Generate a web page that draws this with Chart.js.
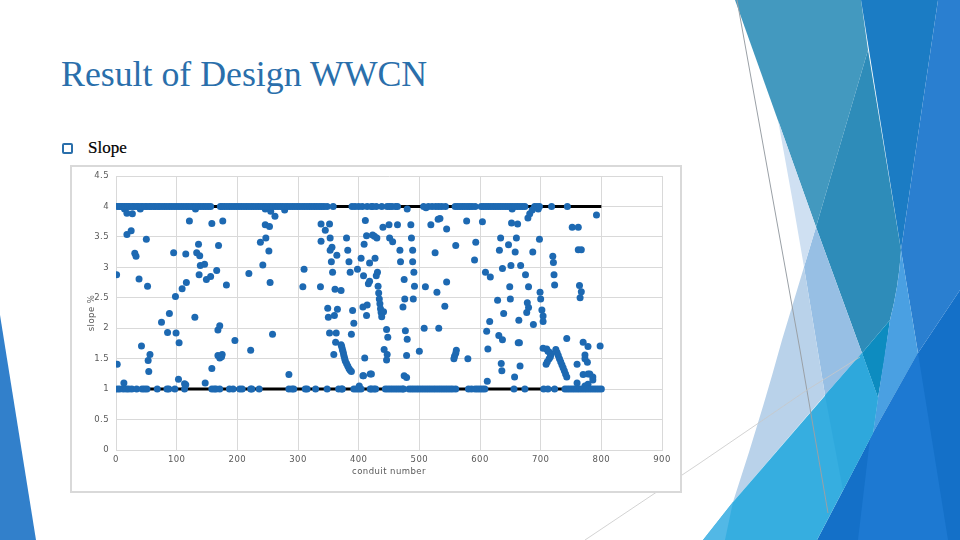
<!DOCTYPE html>
<html>
<head>
<meta charset="utf-8">
<title>Result of Design WWCN</title>
<script src="https://cdn.jsdelivr.net/npm/chart.js@4"></script>
<style>
  html, body { margin: 0; padding: 0; background: #fff; }
  body { position: relative; width: 960px; height: 540px; overflow: hidden; }
  #deco { position: absolute; left: 0; top: 0; }
  h1 { position: absolute; left: 61px; top: 53px; margin: 0; font: normal 35.8px "Liberation Serif", serif; color: #2a6fab; white-space: nowrap; }
  #bullet { position: absolute; left: 62px; top: 143px; width: 7px; height: 7px; border: 2px solid #2a6fab; border-radius: 2px; }
  #sub { position: absolute; left: 88px; top: 138px; font: 17px "Liberation Serif", serif; color: #000; -webkit-text-stroke: 0.2px #000; }
  #box { position: absolute; left: 70px; top: 165px; width: 608px; height: 324px; border: 2px solid #d9d9d9; background: #fff; }
</style>
</head>
<body>
<svg id="deco" width="960" height="540" viewBox="0 0 960 540">
  <!-- left corner -->
  <path d="M0 315 L36 540 L0 540 Z" fill="#3280cb"/>
  <!-- right side panels -->
  <path d="M735 0 L861 0 L868 50 L816 227 Z" fill="#4399bf"/>
  <path d="M861 0 L938 0 L901 250 Z" fill="#1b7cc4"/>
  <path d="M868 50 L816 227 L862 353 L890 320 Q899 285 901 250 Z" fill="#2e8cb9"/>
  <path d="M938 0 L960 0 L960 290 L918 353 L901 250 Z" fill="#2a7fd0"/>
  <path d="M862 353 L890 320 Q885 360 878 398 Z" fill="#0d8cc0"/>
  <path d="M901 250 L918 353 L873 433 L878 398 Q884 360 890 320 Q899 285 901 250 Z" fill="#4aa0e2"/>
  <path d="M960 290 L960 540 L817 540 L873 433 L918 353 Z" fill="#1470c8"/>
  <path d="M870 439 L918 353 L948 540 L858 540 Z" fill="#1d79d2"/>
  <path d="M816 227 L862 353 L825 395 L804 267 Z" fill="#97bfe4"/>
  <path d="M778 120 L816 227 L804 267 L793 203 Z" fill="#cfe0f2"/>
  <path d="M804 267 L825 395 L733 502 Q760 420 782 340 Z" fill="#b9d2ea"/>
  <path d="M862 353 L878 398 L873 433 L817 540 L703 540 L733 502 Z" fill="#36aee0"/>
  <path d="M825 395 L862 353 L878 398 L873 433 L843 490 Z" fill="#2ea8dc"/>
  <path d="M703 540 L733 502 L725 540 Z" fill="#52b8e6"/>
  <!-- thin lines -->
  <path d="M737 0 L800 350 L828 513" fill="none" stroke="#9aa0a6" stroke-width="1"/>
  <path d="M585 540 L700 463 L807 390 L860 357" fill="none" stroke="#c8c8c8" stroke-width="0.8"/>
</svg>
<h1>Result of Design WWCN</h1>
<div id="bullet"></div>
<div id="sub">Slope</div>
<div id="box"><canvas id="slopeChart" width="608" height="324"></canvas></div>
<script>
// design limits, drawn as black lines
const limitX = [0, 800];
const maxSlope = [4, 4];
const minSlope = [1, 1];

// conduits sitting on the max slope
const atMaxX = [2, 5, 8, 11, 14, 17, 20, 23, 27, 30, 34, 37, 41, 44, 48, 51, 55, 58, 62, 65, 69, 72, 76, 80, 84, 88, 92, 96, 100, 104, 108, 112, 116, 120, 124, 128, 132, 136, 140, 144, 148, 152, 156,
  172, 175, 179, 183, 187, 191, 195, 199, 203, 207, 211, 215, 219, 223, 227, 231, 235, 239, 243, 247, 251, 255, 259, 263, 267, 271, 275, 279, 283, 287, 291, 295, 299, 303, 307, 311, 315, 319, 323, 327, 331, 335, 339, 343, 348, 358,
  389, 394, 400, 406, 414, 421, 423, 429, 438, 447, 451, 455, 461, 464, 507, 515, 521, 527, 532, 537, 543, 559, 563, 567, 571, 575, 579, 583, 587, 592, 602, 606, 610, 614, 618, 622, 626, 630, 634, 638, 642, 646, 650, 654, 658, 662, 666, 670, 674, 690, 694, 698, 718, 744];

// conduits sitting on the min slope
const atMinX = [2, 6, 12, 17, 21, 26, 34, 43, 47, 51, 68, 84, 87, 97, 113, 158, 162, 165, 171, 187, 193, 204, 208, 222, 224, 236, 285, 290, 293, 312, 315, 329, 348, 367, 372, 373, 392, 396, 400, 404, 419, 421, 425, 428,
  444, 448, 452, 456, 460, 464, 468, 472, 474, 483, 487, 491, 495, 499, 503, 507, 511, 515, 519, 523, 527, 531, 535, 539, 543, 547, 551, 555, 560, 581, 586, 592, 596, 600, 604, 608, 656, 674, 705, 712, 723,
  740, 744, 748, 752, 756, 760, 764, 768, 772, 776, 780, 784, 788, 792, 796, 800];

// everything in between
const midX = [1, 18, 25, 31, 33, 38, 52, 50, 14, 18, 27, 40, 75, 88, 98, 85, 99, 95, 109, 116, 115, 121, 131, 130, 133, 138, 136, 139, 146, 137, 149, 156, 166, 158, 169, 176, 182, 168, 171,
  219, 238, 247, 252, 242, 254, 246, 255, 262, 278, 246, 253, 258, 310, 308, 337, 361, 371, 338, 352, 345, 353, 380, 338, 356, 353, 382, 364, 355, 384, 398, 357, 386, 349, 365, 350, 360, 390, 392, 352, 363, 388,
  2, 13, 42, 56, 53, 54, 103, 113, 115, 147, 158, 168, 175, 171, 174, 104, 196, 222, 285, 359, 362,
  371, 372, 373, 374, 375, 376, 377, 378, 380, 382, 384, 386, 388,
  411, 440, 450, 464, 486, 519, 531, 534, 545, 578, 413, 423, 426, 430, 409, 451, 456, 487, 468, 489, 526, 560, 593, 404, 427, 418, 469, 489, 591,
  431, 429, 408, 418, 416, 491, 475, 432, 492, 510, 545, 529, 433, 434, 435, 436, 437, 441, 438, 476, 490, 473, 542, 407, 414, 413,
  446, 477, 508, 532, 448, 480, 442, 447, 446, 479, 500, 561, 560, 558, 557, 580, 410, 419, 407, 475, 479, 401, 408, 421, 480, 511,
  604, 652, 662, 752, 762, 792, 679, 682, 686, 653, 696, 634, 660, 698, 647, 632, 658, 687, 720, 721, 762, 767, 637, 651, 667, 609, 617, 675, 722, 723, 649, 680, 764, 767, 765, 699, 700, 629, 650, 678, 680, 677, 702, 704, 704, 639, 616, 664, 688, 611, 631, 637, 663, 665, 613, 743, 770, 778, 798, 773, 773, 777, 760, 709, 635, 636, 666, 657, 612,
  704, 710, 712, 715, 717, 716, 714, 711, 725, 727, 729, 731, 733, 735, 737, 739, 741, 743, 760, 770, 778, 781, 786, 786, 778, 773];
const midSlope = [2.88, 3.54, 3.6, 3.23, 3.18, 2.81, 2.69, 3.46, 3.96, 3.89, 3.88, 3.96, 2.1, 2.24, 2.52, 1.93, 1.92, 3.24, 2.65, 2.75, 3.22, 3.76, 3.96, 2.18, 3.24, 3.19, 3.38, 3.03, 3.05, 2.88, 2.8, 2.85, 2.95, 3.72, 3.36, 3.76, 2.71, 1.97, 2.04,
  2.9, 3.41, 3.48, 3.27, 3.04, 2.75, 3.96, 3.92, 3.84, 3.94, 3.7, 3.67, 1.9, 2.97, 2.68, 2.68, 2.64, 2.62, 3.71, 3.71, 3.61, 3.48, 3.48, 3.43, 3.33, 3.28, 3.28, 3.2, 3.09, 3.09, 2.97, 2.92, 2.92, 2.33, 2.31, 2.18, 2.21, 2.29, 2.08, 1.92, 1.92, 1.9,
  1.41, 1.1, 1.71, 1.57, 1.47, 1.29, 1.16, 1.09, 1.07, 1.1, 1.34, 1.55, 1.57, 1.51, 1.53, 1.76, 1.8, 1.64, 1.24, 1.57, 1.77,
  1.73, 1.7, 1.66, 1.62, 1.58, 1.54, 1.5, 1.46, 1.42, 1.38, 1.34, 1.31, 1.29,
  3.77, 3.66, 3.7, 3.7, 3.7, 3.7, 3.79, 3.8, 3.63, 3.76, 3.52, 3.53, 3.51, 3.48, 3.38, 3.48, 3.42, 3.48, 3.28, 3.28, 3.24, 3.36, 3.41, 3.15, 3.15, 3.07, 3.09, 3.09, 3.12,
  2.92, 2.86, 2.86, 2.77, 2.73, 2.92, 2.8, 2.69, 2.69, 2.68, 2.76, 2.59, 2.58, 2.48, 2.4, 2.32, 2.26, 2.27, 2.19, 2.48, 2.48, 2.35, 2.36, 2.35, 2.38, 2.21,
  1.98, 1.96, 2, 2, 1.85, 1.82, 1.65, 1.57, 1.48, 1.55, 1.62, 1.64, 1.59, 1.54, 1.5, 1.5, 1.51, 1.25, 1.22, 1.22, 1.19, 1.05, 1.22, 1.25, 3.96, 3.98,
  3.75, 3.73, 3.71, 3.66, 3.66, 3.86, 3.81, 3.88, 3.94, 3.96, 3.96, 3.48, 3.48, 3.46, 3.37, 3.28, 3.25, 3.25, 3.18, 3.08, 3.29, 3.29, 2.98, 3.03, 3.03, 2.92, 2.84, 2.88, 2.88, 2.71, 2.68, 2.68, 2.7, 2.6, 2.5, 2.59, 2.48, 2.46, 2.48, 2.42, 2.34, 2.26, 2.3, 2.2, 2.11, 2.24, 2.11, 2.13, 2.06, 1.95, 1.88, 1.81, 1.76, 1.76, 1.66, 1.83, 1.77, 1.7, 1.71, 1.56, 1.5, 1.44, 1.41, 1.41, 1.42, 1.3, 1.38, 1.2, 1.13,
  1.67, 1.66, 1.62, 1.6, 1.57, 1.53, 1.5, 1.45, 1.65, 1.6, 1.55, 1.5, 1.45, 1.4, 1.35, 1.3, 1.25, 1.2, 1.1, 1.24, 1.25, 1.25, 1.2, 1.15, 1.08, 1.05];

const xTicks = [0, 100, 200, 300, 400, 500, 600, 700, 800, 900];
const yTicks = [0, 0.5, 1, 1.5, 2, 2.5, 3, 3.5, 4, 4.5];

const pts = (xs, ys) => xs.map((x, i) => ({ x: x, y: ys[i] }));
const grey = '#595959';
const tickFont = { family: 'DejaVu Sans', size: 8.5 };
const dot = { showLine: false, pointRadius: 3.5, pointHoverRadius: 3.5, pointBackgroundColor: '#1d69b2', pointBorderWidth: 0 };

// the reference's axis text is spaced out a bit
const spacedText = {
  id: 'spacedText',
  beforeDraw(chart) { chart.ctx.letterSpacing = '0.45px'; }
};

new Chart(document.getElementById('slopeChart'), {
  type: 'scatter',
  plugins: [spacedText],
  data: {
    datasets: [
      Object.assign({ label: 'min', data: pts(atMinX, atMinX.map(() => minSlope[0])) }, dot),
      Object.assign({ label: 'max', data: pts(atMaxX, atMaxX.map(() => maxSlope[0])) }, dot),
      Object.assign({ label: 'mid', data: pts(midX, midSlope) }, dot),
      { label: 'limit max', data: pts(limitX, maxSlope), showLine: true, borderColor: '#000', borderWidth: 3, pointRadius: 0 },
      { label: 'limit min', data: pts(limitX, minSlope), showLine: true, borderColor: '#000', borderWidth: 3, pointRadius: 0 }
    ]
  },
  options: {
    responsive: false,
    animation: false,
    layout: { padding: { top: 9, right: 18, left: 0, bottom: 0 } },
    plugins: { legend: { display: false }, tooltip: { enabled: false } },
    scales: {
      x: {
        type: 'linear', min: 0, max: 900,
        afterBuildTicks: s => { s.ticks = xTicks.map(v => ({ value: v })); },
        afterFit: s => { s.height = 41; },
        grid: { color: '#d9d9d9', lineWidth: 1, drawTicks: false },
        border: { color: '#d9d9d9' },
        ticks: { color: grey, font: tickFont, padding: 5, maxRotation: 0, autoSkip: false, callback: v => String(v) },
        title: { display: true, text: 'conduit number', color: grey, font: tickFont, padding: { top: 3, bottom: 14 } }
      },
      y: {
        type: 'linear', min: 0, max: 4.5,
        afterBuildTicks: s => { s.ticks = yTicks.map(v => ({ value: v })); },
        afterFit: s => { s.width = 44; s.paddingTop = 0; },
        grid: { color: '#d9d9d9', lineWidth: 1, drawTicks: false },
        border: { color: '#d9d9d9' },
        ticks: { color: grey, font: tickFont, padding: 7, autoSkip: false, callback: v => String(v) },
        title: { display: true, text: 'slope %', color: grey, font: tickFont, padding: { top: 15, bottom: 0 } }
      }
    }
  }
});
</script>
</body>
</html>
